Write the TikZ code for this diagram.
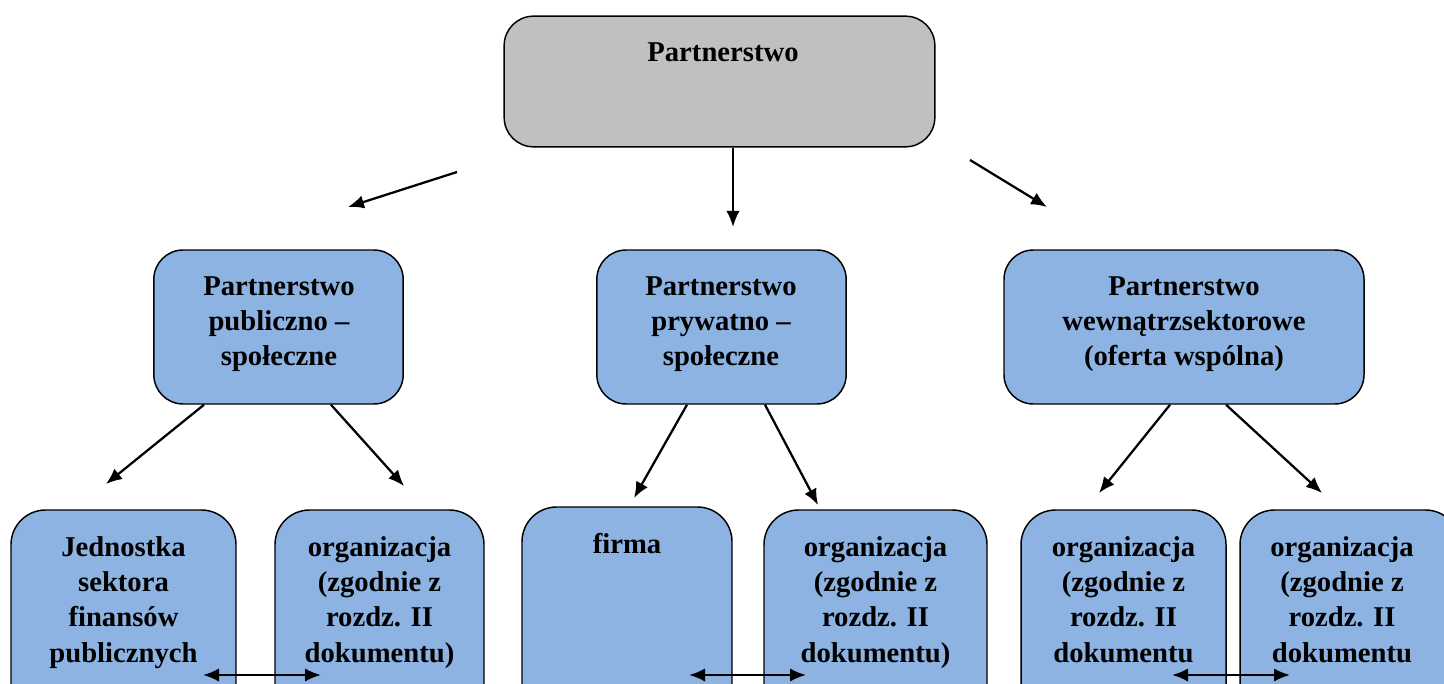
\documentclass[tikz,border=0pt]{standalone}
\usepackage{fontspec}
\setmainfont{Liberation Serif}
\usetikzlibrary{arrows.meta}
\definecolor{boxgray}{RGB}{192,192,192}
\definecolor{boxblue}{RGB}{141,179,226}

\begin{document}
\begin{tikzpicture}[x=0.75pt,y=-0.75pt,
  box/.style={draw,line width=1.1pt,rounded corners=22pt,fill=boxblue,inner sep=0pt},
  txt/.style={align=center,font=\bfseries\fontsize{21.5}{26.5}\selectfont,inner sep=0pt},
  arr/.style={line width=1.7pt,-{Latex[length=12pt,width=10pt]}},
  dbl/.style={line width=1.7pt,{Latex[length=12pt,width=10pt]}-{Latex[length=12pt,width=10pt]}}]
\useasboundingbox (0,0) rectangle (1444,684);
\clip (0,0) rectangle (1444,684);
\node[box,fill=boxgray,minimum width=323pt,minimum height=98pt] (top) at (719.5,81.5) {};
\node[txt] (ttop) at (723,52) {Partnerstwo};
\node[box,minimum width=187pt,minimum height=115.5pt] (ml) at (278.5,327) {};
\node[txt] (tml) at (279,324) {Partnerstwo\\publiczno --\\społeczne};
\node[box,minimum width=187pt,minimum height=115.5pt] (mc) at (721.5,327) {};
\node[txt] (tmc) at (721,324) {Partnerstwo\\prywatno --\\społeczne};
\node[box,minimum width=270pt,minimum height=115.5pt] (mr) at (1184,327) {};
\node[txt] (tmr) at (1184,324) {Partnerstwo\\wewnątrzsektorowe\\(oferta wspólna)};
\node[box,rounded corners=26pt,minimum width=168.75pt,minimum height=157.5pt] (b1) at (123.5,615) {};
\node[txt,anchor=north] (tb1) at (123.5,536) {Jednostka\\sektora\\finansów\\publicznych};
\node[box,rounded corners=26pt,minimum width=156.75pt,minimum height=157.5pt] (b2) at (379.5,615) {};
\node[txt,anchor=north] (tb2) at (379.5,536) {organizacja\\(zgodnie z\\rozdz. II\\dokumentu)};
\node[box,rounded corners=26pt,minimum width=157.5pt,minimum height=159.75pt] (b3) at (627,613.5) {};
\node[txt,anchor=north] (tb3) at (627,533) {firma};
\node[box,rounded corners=26pt,minimum width=167.25pt,minimum height=157.5pt] (b4) at (875.5,615) {};
\node[txt,anchor=north] (tb4) at (875.5,536) {organizacja\\(zgodnie z\\rozdz. II\\dokumentu)};
\node[box,rounded corners=26pt,minimum width=153.75pt,minimum height=157.5pt] (b5) at (1123.5,615) {};
\node[txt,anchor=north] (tb5) at (1123.5,536) {organizacja\\(zgodnie z\\rozdz. II\\dokumentu};
\node[box,rounded corners=26pt,minimum width=165pt,minimum height=157.5pt] (b6) at (1350,615) {};
\node[txt,anchor=north] (tb6) at (1342,536) {organizacja\\(zgodnie z\\rozdz. II\\dokumentu};
\coordinate (p1) at (457,172);
\coordinate (q1) at (348,207);
\coordinate (q2) at (733,227);
\coordinate (p3) at (970,160);
\coordinate (q3) at (1047,207);
\coordinate (r1) at (106,484);
\coordinate (r2) at (404,486);
\coordinate (r3) at (634,498);
\coordinate (r4) at (818,505);
\coordinate (r5) at (1099,493);
\coordinate (r6) at (1322,493);
\coordinate (d1) at (203,675);
\coordinate (e1) at (321,675);
\coordinate (d2) at (689,675);
\coordinate (e2) at (806,675);
\coordinate (d3) at (1172,675);
\coordinate (e3) at (1290,675);
\draw[arr] (p1) -- (q1);
\draw[arr] (top.south -| q2) -- (q2);
\draw[arr] (p3) -- (q3);
\draw[arr] (ml.south -| 204,0) -- (r1);
\draw[arr] (ml.south -| 331,0) -- (r2);
\draw[arr] (mc.south -| 687,0) -- (r3);
\draw[arr] (mc.south -| 765,0) -- (r4);
\draw[arr] (mr.south -| 1170,0) -- (r5);
\draw[arr] (mr.south -| 1226,0) -- (r6);
\draw[dbl] (d1) -- (e1);
\draw[dbl] (d2) -- (e2);
\draw[dbl] (d3) -- (e3);
\end{tikzpicture}
\end{document}
